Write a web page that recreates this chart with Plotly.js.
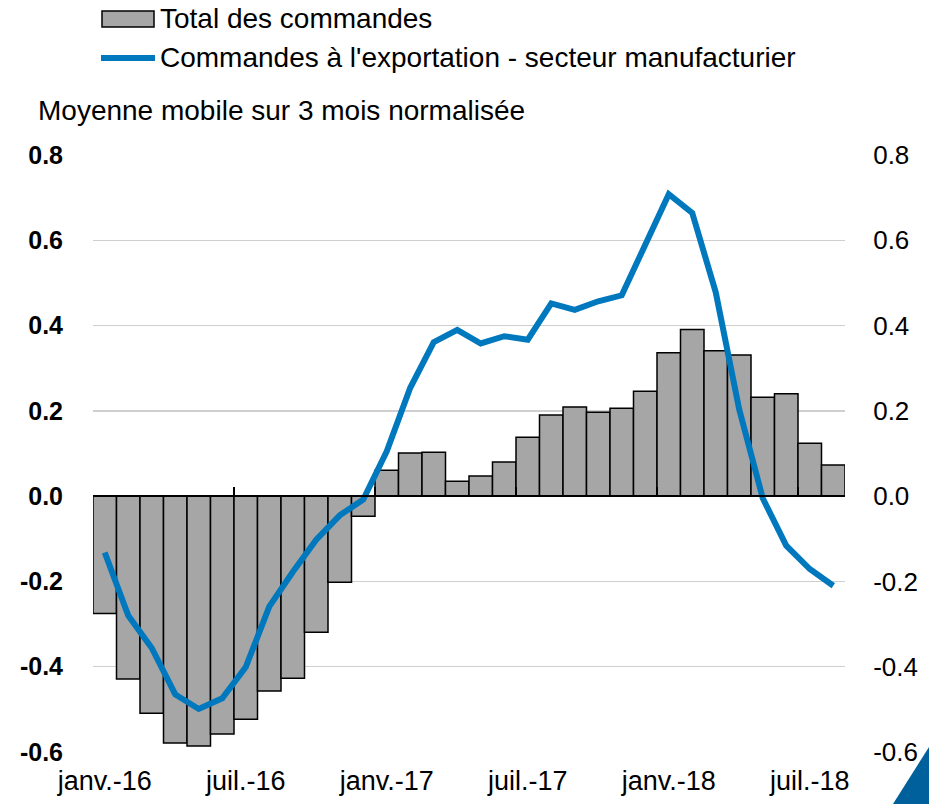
<!DOCTYPE html>
<html>
<head>
<meta charset="utf-8">
<script src="https://cdn.plot.ly/plotly-3.0.1.min.js"></script>
<style>html,body{margin:0;padding:0;background:#fff;}#chart{width:929px;height:804px;}</style>
</head>
<body>
<div id="chart"></div>
<script>
// ---- Data ----
const months = [
  'janv.-16','févr.-16','mars-16','avr.-16','mai-16','juin-16','juil.-16','août-16','sept.-16','oct.-16','nov.-16','déc.-16',
  'janv.-17','févr.-17','mars-17','avr.-17','mai-17','juin-17','juil.-17','août-17','sept.-17','oct.-17','nov.-17','déc.-17',
  'janv.-18','févr.-18','mars-18','avr.-18','mai-18','juin-18','juil.-18','août-18'
];
const totalOrders = [
  -0.275, -0.429, -0.509, -0.579, -0.586, -0.558, -0.523, -0.457, -0.427, -0.319, -0.202, -0.047,
   0.061,  0.101,  0.103,  0.035,  0.047,  0.080,  0.138,  0.190,  0.209,  0.197,  0.206,  0.246,
   0.336,  0.391,  0.341,  0.331,  0.232,  0.240,  0.124,  0.073
];
const exportOrders = [
  -0.132, -0.280, -0.356, -0.465, -0.499, -0.474, -0.401, -0.259, -0.178, -0.102, -0.045, -0.008,
   0.105,  0.254,  0.361,  0.390,  0.358,  0.375,  0.367,  0.452,  0.437,  0.457,  0.471,  0.591,
   0.708,  0.664,  0.478,  0.203, -0.005, -0.116, -0.171, -0.210
];
const yTicks = [-0.6, -0.4, -0.2, 0.0, 0.2, 0.4, 0.6, 0.8];
const seriesNames = ['Total des commandes', "Commandes à l'exportation - secteur manufacturier"];
const yTitle = 'Moyenne mobile sur 3 mois normalisée';

// ---- Derived ----
const idx = months.map((_, i) => i);
const labelIdx = idx.filter(i => months[i].startsWith('janv.') || months[i].startsWith('juil.'));
const labelText = labelIdx.map(i => months[i]);
const boundaryTicks = labelIdx.map(i => i - 0.5);
const yTickText = yTicks.map(v => v.toFixed(1));

// ---- Layout geometry (pixels) ----
const W = 929, H = 804;
const M = {l: 93, r: 84, t: 155, b: 52};
const PW = W - M.l - M.r, PH = H - M.t - M.b;
const px = x => (x - M.l) / PW;
const py = y => (H - M.b - y) / PH;

const FONT = 'Liberation Sans, Arial, sans-serif';
const BLUE = '#0078BE';
const GREY = '#A6A6A6';
const yMin = -0.6, yMax = 0.8;

const traces = [
  {
    type: 'bar', x: idx, y: totalOrders, name: seriesNames[0],
    marker: {color: GREY, line: {color: '#000', width: 1.5}},
    width: 1, xaxis: 'x', yaxis: 'y', hoverinfo: 'skip'
  },
  {
    type: 'scatter', mode: 'lines', x: idx, y: exportOrders, name: seriesNames[1],
    line: {color: BLUE, width: 6},
    xaxis: 'x2', yaxis: 'y2', hoverinfo: 'skip'
  }
];

const layout = {
  width: W, height: H,
  margin: M,
  paper_bgcolor: '#fff', plot_bgcolor: '#fff',
  showlegend: false,
  bargap: 0,
  font: {family: FONT, color: '#000'},
  xaxis: {
    range: [-0.5, months.length - 0.5],
    tickvals: labelIdx, ticktext: labelText,
    tickfont: {family: FONT, size: 27, color: '#000'},
    ticks: 'outside', ticklen: 5, tickcolor: 'rgba(0,0,0,0)',
    showgrid: false, zeroline: false, showline: false, fixedrange: true
  },
  xaxis2: {
    overlaying: 'x', anchor: 'free', position: (0 - yMin) / (yMax - yMin),
    range: [-0.5, months.length - 0.5],
    tickvals: boundaryTicks, showticklabels: false,
    ticks: 'inside', ticklen: 8, tickwidth: 1.5, tickcolor: '#000',
    showline: true, linecolor: '#000', linewidth: 2, layer: 'above traces',
    showgrid: false, zeroline: false, fixedrange: true
  },
  yaxis: {
    range: [yMin, yMax], tickvals: yTicks, ticktext: yTickText,
    tickfont: {family: FONT, size: 25, color: '#000', weight: 'bold'},
    ticks: 'outside', ticklen: 24, tickcolor: 'rgba(0,0,0,0)',
    showgrid: true, gridcolor: '#CFCFCF', gridwidth: 1.5,
    zeroline: false, showline: false, fixedrange: true
  },
  yaxis2: {
    overlaying: 'y', side: 'right', anchor: 'x2',
    range: [yMin, yMax], tickvals: yTicks, ticktext: yTickText,
    tickfont: {family: FONT, size: 26, color: '#000'},
    ticks: 'outside', ticklen: 22, tickcolor: 'rgba(0,0,0,0)',
    showgrid: false, zeroline: false, showline: false, fixedrange: true
  },
  shapes: [
    // legend symbols
    {type: 'rect', xref: 'paper', yref: 'paper', x0: px(102), x1: px(154), y0: py(27), y1: py(11),
     fillcolor: GREY, line: {color: '#000', width: 1.5}},
    {type: 'line', xref: 'paper', yref: 'paper', x0: px(101), x1: px(155), y0: py(58), y1: py(58),
     line: {color: BLUE, width: 6}},
    // corner decoration
    {type: 'path', xref: 'paper', yref: 'paper',
     path: `M ${px(893)} ${py(804)} L ${px(929)} ${py(747)} L ${px(929)} ${py(804)} Z`,
     fillcolor: '#00609C', line: {width: 0}}
  ],
  annotations: [
    {xref: 'paper', yref: 'paper', x: px(158), y: py(19), xanchor: 'left', yanchor: 'middle',
     text: seriesNames[0], showarrow: false, font: {family: FONT, size: 28, color: '#000'}},
    {xref: 'paper', yref: 'paper', x: px(158), y: py(58), xanchor: 'left', yanchor: 'middle',
     text: seriesNames[1], showarrow: false, font: {family: FONT, size: 28, color: '#000'}},
    {xref: 'paper', yref: 'paper', x: px(36), y: py(110), xanchor: 'left', yanchor: 'middle',
     text: yTitle, showarrow: false, font: {family: FONT, size: 28, color: '#000'}}
  ]
};

Plotly.newPlot('chart', traces, layout, {displayModeBar: false, staticPlot: true});
</script>
</body>
</html>
